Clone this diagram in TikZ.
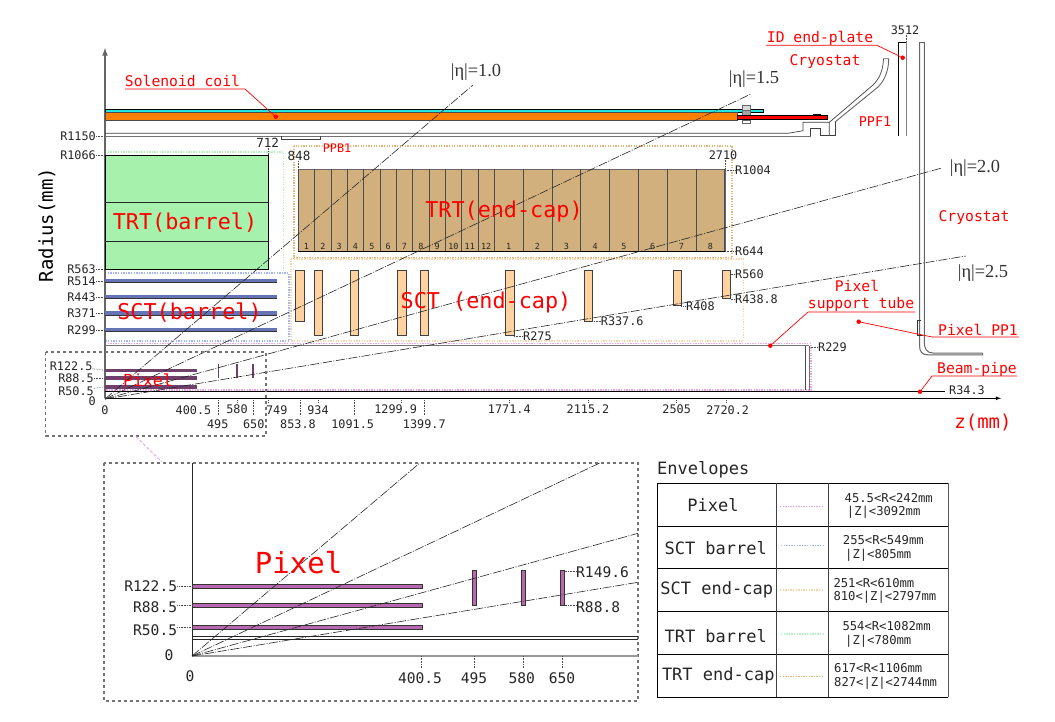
\documentclass[tikz,border=0pt]{standalone}
\usepackage{fontspec}
\setmainfont{DejaVu Sans Mono}
\newfontfamily\etafont{Liberation Serif}
\usetikzlibrary{positioning}
\definecolor{envPixel}{HTML}{F0A0E4}
\definecolor{envSctB}{HTML}{A4B4F8}
\definecolor{envSctE}{HTML}{F8D4A8}
\definecolor{envTrtB}{HTML}{B4F4BC}
\definecolor{envTrtE}{HTML}{E4B478}
\definecolor{trtGreen}{HTML}{A6F2AC}
\definecolor{trtTan}{HTML}{D2B07E}
\definecolor{sctPeach}{HTML}{FFD2A0}
\definecolor{sctBlue}{HTML}{6474B4}
\definecolor{pixDark}{HTML}{70406C}
\definecolor{pixPurple}{HTML}{B868B0}
\definecolor{coilCyan}{HTML}{20E8E0}
\definecolor{coilOrange}{HTML}{FF8000}
\tikzset{
  txt/.style={inner sep=0pt,text=black!85,font=\fontsize{11.8}{12}\selectfont},
  inlab/.style={inner sep=0pt,text=black!85,font=\fontsize{14.6}{15}\selectfont},
  tablab/.style={inner sep=0pt,text=black!85,font=\fontsize{17}{18}\selectfont},
  tabval/.style={inner sep=0pt,anchor=west,text=black!85,font=\fontsize{12.2}{13}\selectfont},
  redlab/.style={inner sep=0pt,text=red,font=\fontsize{14.7}{15}\selectfont},
  bigred/.style={inner sep=0pt,text=red,font=\fontsize{21.8}{22}\selectfont},
  etalab/.style={inner sep=0pt,text=black!80,font=\etafont\fontsize{18.4}{19}\selectfont},
  leader/.style={black!70,line width=0.6pt,densely dotted},
  etaline/.style={black!85,line width=0.6pt,dash pattern=on 9pt off 1.5pt on 1pt off 1.5pt},
  envline/.style={line width=1.5pt,dash pattern=on 1.3pt off 1.3pt},
  callout/.style={red,line width=0.7pt},
  reddot/.style={circle,fill=red,inner sep=0pt,minimum size=4.5pt},
  sctdisk/.style={draw=black!75,line width=0.7pt,fill=sctPeach},
}
\begin{document}
\begin{tikzpicture}[x=1pt,y=-1pt]
  \useasboundingbox (0,0) rectangle (1055,721);
  \fill[white] (0,0) rectangle (1055,721);

  \draw[envline,envTrtB] (105,152) -- (283.5,152) -- (283.5,271);
  \draw[envline,envSctB] (105,273) -- (289,273) -- (289,341) -- (105,341);
  \draw[envline,envTrtE] (294,146) rectangle (732,258);
  \draw[envline,envSctE] (291,259) -- (743.5,259) -- (743.5,341) -- (291,341) -- cycle;
  \draw[envline,envPixel] (105,343.5) -- (811,343.5) -- (811,390) -- (105,390);

  \draw[black!60,line width=1.6pt,-latex] (105,398) -- (105,48);
  \draw[black,line width=0.8pt,-latex] (105,398.3) -- (1001,398.3);

  \fill[coilCyan] (105,109.3) rectangle (763,112.5);
  \draw[black,line width=0.6pt] (105,109.3) rectangle (763,112.5);
  \draw[black!70,line width=0.7pt,fill=coilOrange] (105,112.5) rectangle (737,120.3);
  \draw[black!60,line width=0.6pt,fill=black!15] (742,105) rectangle (750,110);
  \draw[black!60,line width=0.6pt,fill=black!35] (742,110) rectangle (750,117);
  \draw[black!60,line width=0.6pt,fill=white] (742,120) rectangle (750,123.5);
  \draw[black,line width=0.7pt,fill=red] (737.7,115) rectangle (827.7,119.7);
  \fill[black] (813,113.6) rectangle (820.5,115);

  \draw[black!75,line width=0.7pt] (105,133.3) -- (788,133.3) -- (803,130.7) -- (803,122.3) -- (829.3,122.3) -- (829.3,135.7);
  \draw[black!55,line width=1pt] (105,136) -- (810.7,136);
  \draw[black!75,line width=0.7pt] (810.7,136) -- (810.7,128.4) -- (820,128.4) -- (820,135.7) -- (835,135.7) -- (835,122);
  \draw[black!75,line width=0.7pt] (829.3,122.3) -- (873,85) .. controls (880,78) and (883,70) .. (883.5,58.7);
  \draw[black!60,line width=0.9pt] (835,122) -- (878,87) .. controls (885,80) and (888.7,70) .. (888.7,58.7) -- (883.5,58.7);
  \draw[black!75,line width=0.7pt] (281.7,136) -- (281.7,139.3) -- (320.7,139.3) -- (320.7,136);

  \draw[black,line width=0.7pt] (898.7,135.7) -- (898.7,42.3) -- (906.7,42.3);
  \draw[black!50,line width=1pt] (906.7,42.3) -- (906.7,135.7);
  \draw[black!60,line width=0.9pt] (919.5,42) -- (924.3,42);
  \draw[black!60,line width=1pt] (919.5,42) -- (919.5,345) .. controls (919.5,352) and (922,354.8) .. (928,354.8) -- (982.7,354.8) -- (982.7,353);
  \draw[black!60,line width=1pt] (924.3,42) -- (924.3,342) .. controls (924.3,349) and (927,353) .. (933,353) -- (982.7,353);
  \draw[black!80,line width=0.8pt] (921,320) -- (917.7,320) -- (917.7,335) -- (923,335);

  \draw[black,line width=0.7pt,fill=trtGreen] (105,155.3) rectangle (268,269.5);
  \foreach \y in {202.3,241.3} \draw[black!85,line width=0.7pt] (105,\y) -- (268,\y);

  \draw[black!60,line width=0.8pt,fill=trtTan] (298.3,169) rectangle (725,251);
  \draw[black,line width=0.8pt] (298.3,251) -- (725,251);
  \foreach \i in {0,...,12} {
    \pgfmathsetmacro\xa{298.3+16.33*\i}
    \draw[black!70,line width=0.8pt] (\xa,169) -- (\xa,251);
  }
  \foreach \i in {1,...,8} {
    \pgfmathsetmacro\xa{494.3+28.8*\i}
    \draw[black!70,line width=0.8pt] (\xa,169) -- (\xa,251);
  }
  \foreach \i in {1,...,12} {
    \pgfmathsetmacro\xa{298.3+16.33*(\i-0.5)}
    \node[txt,font=\fontsize{8.4}{9}\selectfont] (wa\i) at (\xa,246) {\i};
  }
  \foreach \i in {1,...,8} {
    \pgfmathsetmacro\xa{494.3+28.8*(\i-0.5)}
    \node[txt,font=\fontsize{8.4}{9}\selectfont] (wb\i) at (\xa,246) {\i};
  }

  \foreach \y in {281,297,313.3,330} {
    \fill[sctBlue] (105,\y-2.4) rectangle (276.7,\y+2.4);
    \draw[black!80,line width=0.7pt] (105,\y+1.8) -- (276.7,\y+1.8);
  }

  \foreach \xa/\xb/\yb in {295.7/304.3/321.3,314.3/322.7/335.7,350.3/358.7/335.7,397.7/406/335.7,420.3/428.7/335.7,505.7/514/335.7,584/592.3/321.3,673/681.3/305,722.3/730.7/298.3}
    \draw[sctdisk] (\xa,270) rectangle (\xb,\yb);

  \draw[black!55,line width=1pt] (105,345.5) -- (809,345.5);
  \draw[black!70,line width=0.8pt] (805.7,345.5) -- (805.7,390);
  \draw[black!55,line width=1pt] (809,345.5) -- (809,390);
  \draw[black,line width=0.8pt] (105,391.7) -- (945,391.7);

  \foreach \y in {370.3,378,386.7} \fill[pixDark] (105,\y-1.8) rectangle (196.7,\y+1.8);
  \draw[pixDark,line width=1.3pt] (218.3,364) -- (218.3,378);
  \draw[pixDark,line width=1.7pt] (237.3,364) -- (237.3,378);
  \draw[pixDark,line width=1.7pt] (253.3,364) -- (253.3,378);

  \coordinate (org) at (105,399);
  \coordinate (etaA) at (473,85);
  \coordinate (etaB) at (751,94);
  \coordinate (etaC) at (941.7,168);
  \coordinate (etaD) at (965.7,256);
  \foreach \e in {etaA,etaB,etaC,etaD} \draw[etaline] (org) -- (\e);
  \node[etalab] (lbEtaA) at (476,72) {|η|=1.0};
  \node[etalab] (lbEtaB) at (754,79) {|η|=1.5};
  \node[etalab] (lbEtaC) at (975,168) {|η|=2.0};
  \node[etalab] (lbEtaD) at (983,273) {|η|=2.5};

  \foreach \y/\t [count=\i] in {136/R1150,155/R1066,269/R563,281/R514,297/R443,313.3/R371,330/R299} {
    \node[txt,anchor=east] (rr\i) at (96,\y) {\t};
    \coordinate (rs\i) at (105,\y);
    \draw[leader] (rr\i) -- (rs\i);
  }
  \node[txt,anchor=east] (rp1) at (92.7,366) {R122.5};
  \node[txt,anchor=east] (rp2) at (94,378) {R88.5};
  \node[txt,anchor=east] (rp3) at (94,391) {R50.5};
  \node[txt,anchor=east] (rp4) at (96,401) {0};
  \coordinate (rq1) at (105,370.3);
  \coordinate (rq2) at (105,378);
  \coordinate (rq3) at (105,386.7);
  \foreach \i in {1,2,3} \draw[leader] (rp\i) -- (rq\i);

  \foreach \x/\y/\t [count=\i] in {105/410/0,193.5/410/400.5,217.7/424/495,237/409/580,253.7/424/650,276.7/410/749,298/424/853.8,318/410/934,352.7/424/1091.5,395.7/409/1299.9,424.3/424/1399.7,509.3/409/1771.4,588/409/2115.2,676.7/409/2505,727.7/410/2720.2}
    \node[txt] (zz\i) at (\x,\y) {\t};
  \foreach \x/\y [count=\i] in {218.3/415,237.3/403,253.3/415,268/403,300/416,318/403,354/416,401.7/403,424.3/415,509.3/403,588/403,676.7/403,726.3/403} {
    \coordinate (ta\i) at (\x,400);
    \coordinate (tb\i) at (\x,\y);
    \draw[leader] (ta\i) -- (tb\i);
  }

  \node[txt,font=\fontsize{12.6}{13}\selectfont] (d712) at (267.7,143) {712};
  \node[txt,font=\fontsize{12.6}{13}\selectfont] (d848) at (299,156) {848};
  \node[txt] (d2710) at (723,155) {2710};
  \node[txt] (d3512) at (905,30) {3512};
  \coordinate (e712) at (268,155);
  \coordinate (e848) at (298.5,169);
  \coordinate (e2710) at (725,169);
  \coordinate (e3512) at (906.7,42);
  \draw[leader] (d712.south -| e712) -- (e712);
  \draw[leader] (d848.south -| e848) -- (e848);
  \draw[leader] (d2710.south -| e2710) -- (e2710);
  \draw[leader] (d3512.south -| e3512) -- (e3512);

  \foreach \xa/\xb/\y/\t [count=\i] in {725/735/170/R1004,725/735/251/R644,730.7/735/274/R560,730.7/735/299/R438.8,514/523/336/R275,592.3/600.7/321/R337.6,681.3/686/306/R408,809/818/347/R229} {
    \node[txt,anchor=west] (rd\i) at (\xb,\y) {\t};
    \coordinate (re\i) at (\xa,\y);
    \draw[leader] (re\i) -- (rd\i);
  }
  \node[txt,anchor=west] (rBeam) at (949,390.5) {R34.3};

  \node[bigred] (lbTrtB) at (185,223) {TRT(barrel)};
  \node[bigred] (lbTrtE) at (504,211) {TRT(end-cap)};
  \node[bigred] (lbSctB) at (189.5,313) {SCT(barrel)};
  \node[bigred] (lbSctE) at (486,302) {SCT (end-cap)};
  \node[inner sep=0pt,text=red,font=\fontsize{16.6}{17}\selectfont] (lbPixS) at (148,380) {Pixel};
  \node[inner sep=0pt,text=red,font=\fontsize{19}{20}\selectfont] (lbZ) at (983,423) {z(mm)};
  \node[inner sep=0pt,text=black,rotate=90,font=\fontsize{19}{20}\selectfont] (lbR) at (47,225) {Radius(mm)};
  \node[redlab] (lbPPB) at (337,148) [font=\fontsize{11.8}{12}\selectfont] {PPB1};
  \node[redlab] (lbPPF) at (875,122) [font=\fontsize{13.5}{14}\selectfont] {PPF1};
  \node[redlab] (lbCryoA) at (825,62) {Cryostat};
  \node[redlab] (lbCryoB) at (974,218) {Cryostat};

  \node[redlab] (lbSol) at (182.5,81) {Solenoid coil};
  \node[reddot] (dSol) at (275.7,116.7) {};
  \draw[callout] (125,89) coordinate (uSol) -- (245,89) coordinate (vSol) -- (dSol);
  \node[redlab] (lbPlate) at (820,38) {ID end-plate};
  \node[reddot] (dPlate) at (902.7,57.7) {};
  \draw[callout] (766,45.3) coordinate (uPlate) -- (877,45.3) coordinate (vPlate) -- (dPlate);
  \node[redlab] (lbTube) at (857,286) {Pixel};
  \node[redlab] (lbTubeB) at (861,304) {support tube};
  \node[reddot] (dTube) at (770.3,345.7) {};
  \draw[callout] (915,312) coordinate (uTube) -- (808,312) coordinate (vTube) -- (dTube);
  \node[redlab] (lbPP) at (978,330) {Pixel PP1};
  \node[reddot] (dPP) at (858.7,321.7) {};
  \draw[callout] (1019,337) coordinate (uPP) -- (932,337) coordinate (vPP) -- (dPP);
  \node[redlab] (lbBeam) at (977,369) {Beam-pipe};
  \node[reddot] (dBeam) at (920,391.7) {};
  \draw[callout] (1017,376) coordinate (uBeam) -- (932,376) coordinate (vBeam) -- (dBeam);

  \draw[black!55,line width=1.1pt,dashed] (45.7,352) rectangle (266,436);
  \draw[envPixel,line width=0.9pt,densely dashed] (136,436.7) -- (162,462);
  \draw[black!55,line width=1.1pt,dashed] (104,463) rectangle (638,701);

  \draw[black!85,line width=0.7pt] (192,463) -- (192,656);
  \draw[black!40,line width=1.6pt] (192,656) -- (638,656);
  \draw[black!85,line width=0.8pt] (192,636.7) -- (638,636.7);
  \draw[black!85,line width=0.8pt] (192,639.3) -- (638,639.3);
  \foreach \y in {586,605.3,627} \draw[black!80,line width=0.6pt,fill=pixPurple] (192,\y-2) rectangle (422,\y+2);
  \foreach \x in {474.3,522.8,562.7} \draw[black!80,line width=0.6pt,fill=pixPurple] (\x-2,570.7) rectangle (\x+2,605.7);

  \coordinate (orgB) at (192,656);
  \coordinate (etaE) at (419.8,463);
  \coordinate (etaF) at (599.8,463);
  \coordinate (etaG) at (638,533.3);
  \coordinate (etaH) at (638,582.3);
  \foreach \e in {etaE,etaF,etaG,etaH} \draw[etaline] (orgB) -- (\e);

  \node[inner sep=0pt,text=red,font=\fontsize{29}{30}\selectfont] (lbPixB) at (298.6,562.7) {Pixel};
  \foreach \y/\yb/\t [count=\i] in {586/586/R122.5,606.7/605.3/R88.5,630/627/R50.5} {
    \node[inlab,anchor=east] (ri\i) at (177.3,\y) {\t};
    \coordinate (rj\i) at (192,\yb);
    \draw[leader] (ri\i.east |- rj\i) -- (rj\i);
  }
  \node[inlab] (zero) at (169,655) {0};
  \node[inlab] (zi0) at (190,675.7) {0};
  \foreach \x/\lx/\t [count=\i] in {421/420/400.5,474.3/474/495,522.8/521.7/580,562.7/562/650} {
    \node[inlab] (zi\i) at (\lx,678.5) {\t};
    \coordinate (zs\i) at (\x,656);
    \coordinate (zt\i) at (\x,668);
    \draw[leader] (zs\i) -- (zt\i);
  }
  \node[inlab,anchor=west] (rk1) at (576,571.7) {R149.6};
  \node[inlab,anchor=west] (rk2) at (576,606.7) {R88.8};
  \coordinate (rl1) at (564.7,571);
  \coordinate (rl2) at (564.7,605.5);
  \draw[leader] (rl1) -- (rk1.west |- rl1);
  \draw[leader] (rl2) -- (rk2.west |- rl2);

  \node[tablab,anchor=west] (envT) at (657,470) {Envelopes};
  \foreach \y in {483,526,568.5,611,654,697} \draw[black,line width=0.8pt] (657,\y) -- (948,\y);
  \draw[black,line width=0.8pt] (657.3,483) -- (657.3,697);
  \draw[black!75,line width=1.1pt] (776.7,483) -- (776.7,697);
  \draw[black!75,line width=1.1pt] (828.3,483) -- (828.3,697);
  \draw[black!65,line width=1.1pt] (948.3,483) -- (948.3,697);
  \node[tablab] (tn1) at (713,505) {Pixel};
  \node[tablab] (tn2) at (715.7,547.7) {SCT barrel};
  \node[tablab] (tn3) at (716.7,590) {SCT end-cap};
  \node[tablab] (tn4) at (715.7,636) {TRT barrel};
  \node[tablab] (tn5) at (718.3,676) {TRT end-cap};
  \draw[envline,envPixel] (780,506.7) -- (823.3,506.7);
  \draw[envline,envSctB] (781,545.7) -- (824.5,545.7);
  \draw[envline,envSctE] (780,590) -- (823.3,590);
  \draw[envline,envTrtB] (781,634) -- (824.5,634);
  \draw[envline,envTrtE] (780,676.3) -- (823.3,676.3);
  \node[tabval] (tv1) at (844.5,497.7) {45.5<R<242mm};
  \node[tabval] (tw1) at (846.7,512.7) {|Z|<3092mm};
  \node[tabval] (tv2) at (842.7,540) {255<R<549mm};
  \node[tabval] (tw2) at (845,555) {|Z|<805mm};
  \node[tabval] (tv3) at (833.3,582.7) {251<R<610mm};
  \node[tabval] (tw3) at (833.3,597.7) {810<|Z|<2797mm};
  \node[tabval] (tv4) at (842.3,626) {554<R<1082mm};
  \node[tabval] (tw4) at (845,641) {|Z|<780mm};
  \node[tabval] (tv5) at (834,667.7) {617<R<1106mm};
  \node[tabval] (tw5) at (834,683) {827<|Z|<2744mm};
\end{tikzpicture}
\end{document}
